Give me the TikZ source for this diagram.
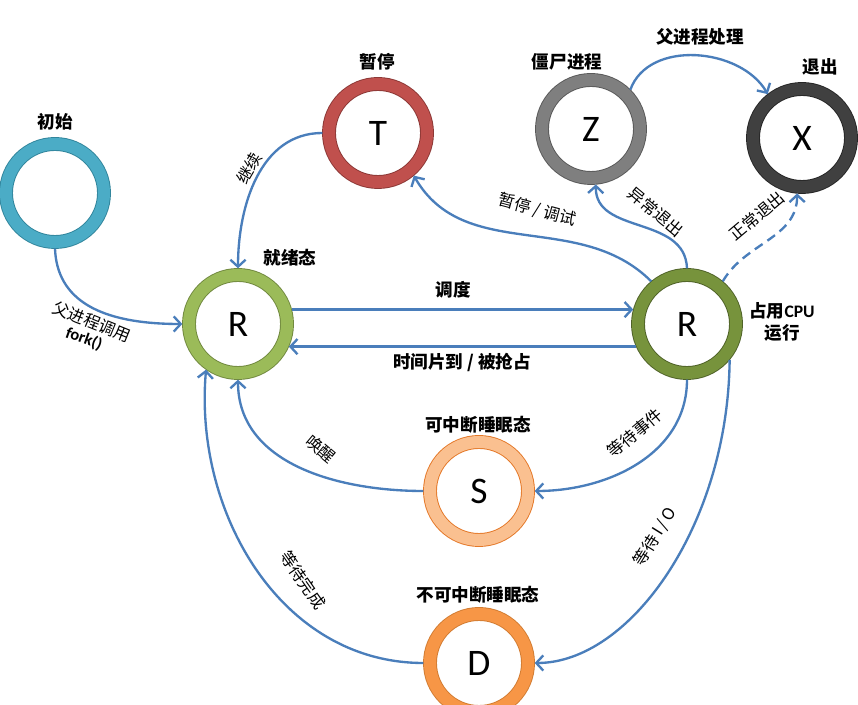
\documentclass[tikz,border=0pt]{standalone}
\usepackage{fontspec}
\setmainfont{Carlito}
\newfontfamily\cjk{Noto Sans CJK SC}
\usetikzlibrary{arrows.meta}
\definecolor{flow_blue}{RGB}{74,126,187}
\definecolor{init_ring}{RGB}{75,172,198}
\definecolor{init_edge}{RGB}{49,133,156}
\definecolor{stop_ring}{RGB}{192,80,77}
\definecolor{stop_edge}{RGB}{140,56,54}
\definecolor{zombie_ring}{RGB}{127,127,127}
\definecolor{zombie_edge}{RGB}{89,89,89}
\definecolor{exit_ring}{RGB}{64,64,64}
\definecolor{exit_edge}{RGB}{38,38,38}
\definecolor{ready_ring}{RGB}{155,187,89}
\definecolor{ready_edge}{RGB}{113,137,63}
\definecolor{run_ring}{RGB}{119,147,60}
\definecolor{run_edge}{RGB}{79,98,40}
\definecolor{sleep_ring}{RGB}{250,192,144}
\definecolor{sleep_edge}{RGB}{228,120,40}
\definecolor{disk_ring}{RGB}{247,150,70}
\definecolor{disk_edge}{RGB}{210,124,50}

\begin{document}
\begin{tikzpicture}[x=0.03cm, y=0.03cm,
  state/.style={circle, minimum size=2.94cm, inner sep=0pt, outer sep=0.2cm,
    line width=0.8pt, double distance=0.36cm, font=\fontsize{32}{32}\selectfont},
  title/.style={font=\cjk\bfseries\fontsize{15}{18}\selectfont, align=center},
  tag/.style={font=\cjk\fontsize{14}{14}\selectfont},
  flow/.style={draw=flow_blue, line width=2pt,
    -{Straight Barb[length=6pt,width=13pt,line width=2pt]}}
  ]
  \useasboundingbox (0,0) rectangle (858,705);

  % states
  \node[state, draw=init_edge, double=init_ring] (init) at (55,512) {};
  \node[state, draw=stop_edge, double=stop_ring] (stop) at (378,572) {T};
  \node[state, draw=zombie_edge, double=zombie_ring] (zombie) at (591,576) {Z};
  \node[state, draw=exit_edge, double=exit_ring] (exit) at (802,567) {X};
  \node[state, draw=ready_edge, double=ready_ring] (ready) at (238,381) {R};
  \node[state, draw=run_edge, double=run_ring] (run) at (687,381) {R};
  \node[state, draw=sleep_edge, double=sleep_ring] (sleep) at (479,214) {S};
  \node[state, draw=disk_edge, double=disk_ring] (disk) at (479,42) {D};

  % state titles
  \node[title] (init_t) at (55,583) {初始};
  \node[title] (stop_t) at (377,643) {暂停};
  \node[title] (zombie_t) at (567,643) {僵尸进程};
  \node[title] (exit_t) at (820,638) {退出};
  \node[title] (ready_t) at (290,447) {就绪态};
  \node[title] (run_t) at (782,383) {占用{\rmfamily\bfseries CPU}\\运行};
  \node[title] (sleep_t) at (478,280) {可中断睡眠态};
  \node[title] (disk_t) at (478,110) {不可中断睡眠态};

  % transitions
  \draw[flow] (init.south) .. controls (57,405) and (100,381) .. (ready.west);
  \draw[flow] (stop.west) to[out=180, in=90] (ready.north);
  \draw[flow] (ready.15) -- (run.165);
  \draw[flow] (run.-156) -- (ready.-24);
  \draw[flow] (run.130) to[out=135, in=-60] (stop.-50);
  \draw[flow] (run.north) .. controls (685,490) and (595,470) .. (zombie.-85);
  \draw[flow, dash pattern=on 8pt off 5pt] (run.50) to[out=60, in=-90] (exit.-95);
  \draw[flow] (zombie.45) to[out=70, in=120] (exit.128);
  \draw[flow] (run.south) to[out=-90, in=0] (sleep.east);
  \draw[flow] (run.-40) .. controls (728,180) and (630,42) .. (disk.east);
  \draw[flow] (sleep.west) to[out=180, in=-90] (ready.south);
  \draw[flow] (disk.west) to[out=180, in=-95] (ready.-125);

  % transition labels
  \node[title] (sched_l) at (453,415) {调度};
  \node[title] (slice_l) at (462,343) {时间片到 / 被抢占};
  \node[title] (parent_l) at (700,668) {父进程处理};
  \node[tag, rotate=-22] (fork_l) at (92,383) {父进程调用};
  \node[rotate=-20, font=\bfseries\fontsize{14}{14}\selectfont] (fork_c) at (84,366) {fork()};
  \node[tag, rotate=60] (cont_l) at (249,537) {继续};
  \node[tag, rotate=-15] (trace_l) at (537,495) {暂停 / 调试};
  \node[tag, rotate=-40] (crash_l) at (656,493) {异常退出};
  \node[tag, rotate=40] (done_l) at (757,489) {正常退出};
  \node[tag, rotate=-40] (wake_l) at (321,256) {唤醒};
  \node[tag, rotate=40] (event_l) at (635,272) {等待事件};
  \node[tag, rotate=-55] (finish_l) at (303,125) {等待完成};
  \node[tag, rotate=58] (io_l) at (655,168) {等待 I\,/\,O};
\end{tikzpicture}
\end{document}
